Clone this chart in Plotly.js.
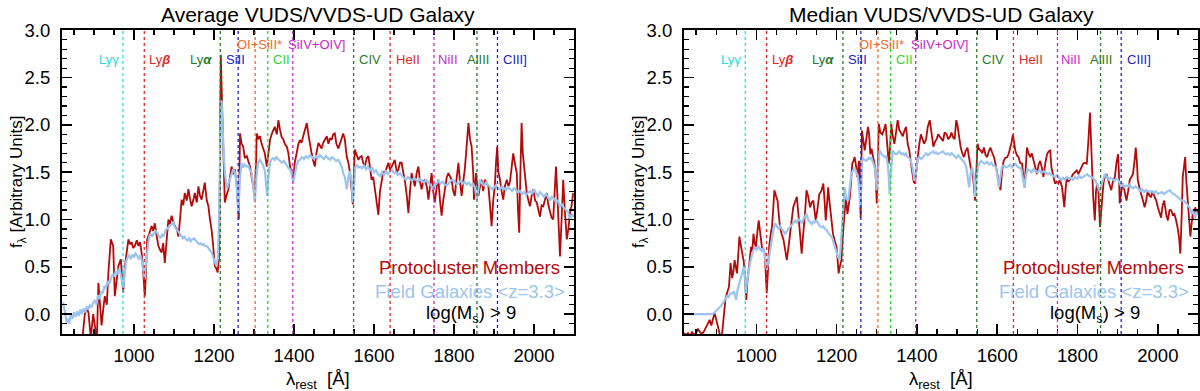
<!DOCTYPE html>
<html>
<head>
<meta charset="utf-8">
<script src="https://cdn.plot.ly/plotly-3.0.1.min.js"></script>
<style>html,body{margin:0;padding:0;background:#fff;}#chart{width:1200px;height:391px;}</style>
</head>
<body>
<div id="chart"></div>
<script>
// ---------------- DATA (rest wavelength [A], f_lambda [arbitrary]) ----------------
const panelTitles = ["Average VUDS/VVDS-UD Galaxy", "Median VUDS/VVDS-UD Galaxy"];
const seriesNames = ["Protocluster Members", "Field Galaxies <z=3.3>"];
const massCut = "log(M<sub>s</sub>) > 9";

// Average stack - protocluster members
const avgProto = [[870,-0.3],[877,0.0],[882,0.06],[886,0.02],[892,-0.25],[898,0.0],[903,-0.15],[907,-0.3],[911,0.33],[915,0.1],[919,-0.12],[923,0.05],[927,0.19],[932,0.1],[936,0.44],[942,0.79],[948,0.72],[952,0.19],[957,0.35],[961,0.51],[967,0.58],[973,0.23],[977,0.5],[982,0.65],[986,0.79],[990,0.74],[994,0.76],[998,0.7],[1002,0.72],[1007,0.78],[1011,0.72],[1015,0.76],[1019,0.65],[1023,0.45],[1027,0.19],[1030,0.45],[1033,0.79],[1038,0.85],[1044,0.93],[1048,0.88],[1052,0.96],[1057,0.82],[1061,0.72],[1065,0.68],[1069,0.65],[1073,0.75],[1077,0.54],[1082,0.8],[1086,1.0],[1090,0.95],[1094,1.04],[1098,0.98],[1102,0.93],[1107,0.9],[1111,0.82],[1115,1.0],[1119,1.21],[1123,1.15],[1127,1.28],[1132,1.2],[1136,1.32],[1140,1.22],[1144,1.14],[1148,1.2],[1152,1.28],[1157,1.18],[1161,1.35],[1165,1.25],[1169,1.21],[1173,1.3],[1177,1.39],[1182,1.2],[1186,1.14],[1190,1.0],[1194,0.89],[1198,0.72],[1202,0.51],[1206,0.48],[1209,0.44],[1213,0.62],[1215,1.6],[1217,2.74],[1219,2.4],[1222,1.95],[1225,1.4],[1227,1.18],[1231,1.25],[1236,1.32],[1240,1.45],[1244,1.56],[1248,1.48],[1252,1.53],[1256,1.4],[1260,1.05],[1262,1.0],[1265,1.91],[1269,1.8],[1273,1.77],[1277,1.65],[1282,1.67],[1286,1.6],[1290,1.56],[1294,1.45],[1298,1.35],[1302,1.25],[1305,1.6],[1307,1.91],[1311,1.85],[1315,1.88],[1319,1.8],[1323,1.74],[1327,1.7],[1332,1.56],[1336,1.7],[1340,1.84],[1344,1.9],[1348,1.95],[1352,1.98],[1357,1.9],[1361,2.05],[1365,1.95],[1369,1.87],[1373,1.85],[1377,1.8],[1382,1.77],[1386,1.7],[1390,1.56],[1394,1.5],[1398,1.42],[1402,1.6],[1407,1.74],[1411,1.8],[1415,1.84],[1419,1.81],[1423,1.88],[1427,1.95],[1432,2.02],[1436,1.9],[1440,1.78],[1444,1.7],[1448,1.62],[1452,1.56],[1456,1.7],[1461,1.81],[1465,1.78],[1469,1.75],[1473,1.81],[1477,1.85],[1482,1.88],[1486,1.8],[1490,1.86],[1494,1.84],[1498,1.9],[1502,1.91],[1506,1.8],[1511,1.75],[1515,1.81],[1519,1.87],[1523,1.91],[1527,1.85],[1532,1.66],[1536,1.6],[1540,1.49],[1544,1.32],[1547,1.16],[1550,1.5],[1552,1.74],[1557,1.68],[1561,1.63],[1565,1.66],[1569,1.67],[1573,1.6],[1577,1.56],[1582,1.65],[1586,1.67],[1590,1.55],[1594,1.42],[1598,1.45],[1602,1.32],[1607,1.2],[1611,1.05],[1615,1.3],[1619,1.42],[1623,1.5],[1627,1.49],[1632,1.55],[1636,1.6],[1640,1.52],[1644,1.56],[1648,1.6],[1652,1.63],[1657,1.5],[1661,1.53],[1665,1.6],[1669,1.6],[1673,1.5],[1677,1.42],[1682,1.25],[1686,1.07],[1690,1.3],[1694,1.49],[1698,1.42],[1702,1.35],[1707,1.5],[1711,1.56],[1715,1.4],[1719,1.32],[1723,1.4],[1727,1.42],[1732,1.35],[1736,1.21],[1740,1.35],[1744,1.49],[1748,1.3],[1752,1.18],[1757,1.35],[1761,1.42],[1765,1.2],[1769,1.04],[1773,1.2],[1777,1.32],[1782,1.45],[1786,1.49],[1790,1.46],[1794,1.42],[1798,1.3],[1802,1.25],[1807,1.45],[1811,1.6],[1815,1.4],[1819,1.25],[1823,1.4],[1827,1.53],[1832,1.8],[1836,2.02],[1840,1.85],[1844,1.77],[1848,1.5],[1850,1.21],[1855,1.49],[1858,1.35],[1861,1.25],[1865,1.35],[1869,1.42],[1873,1.3],[1877,1.42],[1882,1.38],[1886,1.35],[1890,1.15],[1894,0.93],[1898,1.2],[1902,1.35],[1905,1.6],[1908,1.77],[1911,1.5],[1915,1.42],[1919,1.3],[1923,1.21],[1927,1.35],[1932,1.42],[1936,1.35],[1940,1.4],[1944,1.55],[1948,1.7],[1952,1.6],[1957,1.49],[1960,1.1],[1963,0.86],[1966,1.5],[1969,2.02],[1972,1.7],[1975,1.56],[1979,1.4],[1982,1.28],[1986,1.2],[1990,1.14],[1994,1.25],[1998,1.32],[2003,1.2],[2007,1.18],[2011,1.1],[2015,1.03],[2019,1.15],[2023,1.14],[2027,1.2],[2032,1.28],[2036,1.15],[2040,1.07],[2044,1.02],[2048,1.0],[2052,1.3],[2055,1.56],[2058,1.3],[2061,1.0],[2065,0.61],[2069,1.0],[2073,1.42],[2077,1.1],[2082,0.79],[2086,0.9],[2090,1.07],[2094,1.15],[2098,1.28]];

// Average stack - field galaxies
const avgField = [[820,0.09],[823,0.12],[826,0.05],[829,-0.05],[832,-0.09],[835,-0.05],[838,-0.1],[842,0.0],[846,-0.05],[850,0.02],[854,-0.03],[858,0.03],[862,-0.02],[866,0.05],[870,0.0],[874,0.06],[878,0.02],[882,0.08],[886,0.05],[890,0.1],[894,0.07],[898,0.12],[902,0.15],[906,0.1],[910,0.2],[914,0.16],[918,0.24],[922,0.22],[926,0.3],[930,0.27],[934,0.35],[938,0.32],[942,0.38],[946,0.42],[950,0.4],[954,0.45],[958,0.42],[962,0.48],[966,0.44],[970,0.35],[973,0.28],[976,0.4],[980,0.55],[984,0.6],[988,0.62],[992,0.58],[996,0.63],[1000,0.6],[1004,0.64],[1008,0.62],[1012,0.58],[1016,0.62],[1020,0.56],[1024,0.45],[1027,0.37],[1030,0.55],[1034,0.72],[1038,0.82],[1042,0.85],[1046,0.82],[1050,0.86],[1054,0.88],[1058,0.86],[1062,0.82],[1066,0.8],[1070,0.84],[1074,0.82],[1078,0.88],[1082,0.9],[1086,0.92],[1090,0.94],[1094,0.96],[1098,0.97],[1102,0.92],[1106,0.9],[1110,0.88],[1114,0.86],[1118,0.83],[1122,0.8],[1126,0.82],[1130,0.79],[1134,0.78],[1138,0.8],[1142,0.77],[1146,0.79],[1150,0.8],[1154,0.78],[1158,0.76],[1162,0.74],[1166,0.75],[1170,0.73],[1174,0.74],[1178,0.72],[1182,0.72],[1186,0.7],[1190,0.68],[1194,0.65],[1198,0.6],[1202,0.55],[1206,0.51],[1210,0.6],[1213,1.07],[1216,1.9],[1219,2.26],[1221,2.0],[1223,1.77],[1227,1.5],[1232,1.32],[1236,1.38],[1240,1.42],[1244,1.48],[1248,1.53],[1252,1.5],[1256,1.4],[1259,1.2],[1261,1.07],[1264,1.4],[1269,1.6],[1273,1.55],[1277,1.58],[1282,1.56],[1286,1.57],[1290,1.52],[1294,1.5],[1298,1.35],[1302,1.18],[1306,1.45],[1310,1.6],[1315,1.63],[1319,1.6],[1323,1.57],[1327,1.52],[1330,1.4],[1333,1.25],[1336,1.45],[1340,1.6],[1344,1.64],[1348,1.65],[1352,1.63],[1356,1.66],[1360,1.64],[1365,1.62],[1370,1.6],[1375,1.62],[1380,1.58],[1385,1.55],[1390,1.53],[1394,1.48],[1398,1.39],[1402,1.48],[1407,1.58],[1411,1.62],[1415,1.63],[1420,1.66],[1425,1.64],[1430,1.67],[1435,1.65],[1440,1.68],[1445,1.66],[1450,1.64],[1455,1.67],[1460,1.65],[1465,1.68],[1470,1.66],[1475,1.64],[1480,1.67],[1485,1.65],[1490,1.63],[1495,1.66],[1500,1.64],[1505,1.62],[1510,1.63],[1515,1.6],[1520,1.55],[1523,1.49],[1527,1.45],[1532,1.32],[1536,1.45],[1540,1.51],[1544,1.4],[1547,1.18],[1550,1.35],[1553,1.55],[1557,1.58],[1561,1.55],[1565,1.56],[1570,1.54],[1575,1.57],[1580,1.53],[1585,1.56],[1590,1.52],[1595,1.55],[1600,1.5],[1605,1.52],[1610,1.48],[1615,1.46],[1620,1.5],[1625,1.47],[1630,1.51],[1635,1.48],[1640,1.5],[1645,1.53],[1650,1.49],[1655,1.5],[1660,1.47],[1665,1.49],[1670,1.46],[1675,1.44],[1680,1.42],[1685,1.45],[1690,1.43],[1695,1.41],[1700,1.44],[1705,1.42],[1710,1.4],[1715,1.43],[1720,1.41],[1725,1.39],[1730,1.42],[1735,1.4],[1740,1.37],[1744,1.35],[1748,1.32],[1752,1.36],[1757,1.39],[1762,1.41],[1767,1.38],[1772,1.4],[1777,1.37],[1782,1.36],[1787,1.38],[1792,1.41],[1797,1.42],[1802,1.39],[1807,1.37],[1812,1.39],[1817,1.41],[1822,1.38],[1827,1.4],[1832,1.37],[1837,1.39],[1842,1.36],[1847,1.38],[1852,1.34],[1857,1.21],[1861,1.32],[1865,1.42],[1870,1.38],[1875,1.36],[1880,1.39],[1885,1.37],[1890,1.35],[1895,1.32],[1900,1.34],[1905,1.36],[1910,1.33],[1915,1.32],[1920,1.35],[1925,1.33],[1930,1.31],[1935,1.34],[1940,1.32],[1945,1.3],[1950,1.33],[1955,1.31],[1960,1.29],[1965,1.3],[1970,1.27],[1975,1.29],[1980,1.26],[1985,1.28],[1990,1.3],[1995,1.27],[2000,1.32],[2005,1.28],[2010,1.25],[2015,1.29],[2020,1.26],[2025,1.24],[2030,1.27],[2035,1.23],[2040,1.2],[2045,1.24],[2050,1.22],[2055,1.18],[2060,1.2],[2065,1.14],[2070,1.16],[2075,1.12],[2080,1.1],[2085,1.08],[2090,1.0],[2095,1.06],[2100,1.03]];

// Median stack - protocluster members
const medProto = [[820,-0.2],[825,-0.22],[830,-0.2],[835,-0.23],[840,-0.19],[845,-0.22],[850,-0.2],[855,-0.16],[860,-0.19],[865,-0.21],[870,-0.18],[875,-0.14],[880,-0.1],[884,-0.06],[888,-0.12],[892,-0.05],[896,0.01],[900,-0.05],[904,-0.12],[907,-0.2],[911,-0.25],[915,-0.2],[919,-0.05],[923,0.15],[927,0.22],[932,0.29],[936,0.54],[940,0.38],[943,0.45],[946,0.57],[949,0.5],[952,0.43],[955,0.62],[958,0.82],[961,0.74],[965,0.64],[969,0.55],[972,0.35],[975,0.15],[978,0.35],[981,0.5],[984,0.62],[987,0.71],[990,0.66],[993,0.85],[996,0.75],[999,0.71],[1003,0.88],[1006,0.99],[1010,0.85],[1014,0.71],[1018,0.68],[1021,0.64],[1024,0.4],[1026,0.22],[1029,0.45],[1032,0.71],[1036,0.85],[1039,0.92],[1042,1.1],[1045,1.31],[1049,1.25],[1053,1.2],[1056,1.05],[1059,0.92],[1063,0.85],[1068,0.78],[1072,0.68],[1076,0.57],[1080,0.7],[1084,0.85],[1088,1.0],[1092,1.13],[1096,1.18],[1101,1.24],[1104,1.1],[1107,0.92],[1110,0.78],[1113,0.64],[1116,0.8],[1119,0.92],[1122,1.1],[1125,1.31],[1129,1.25],[1134,1.13],[1138,1.18],[1142,1.2],[1145,1.08],[1148,0.99],[1152,1.1],[1157,1.27],[1162,1.3],[1167,1.38],[1170,1.2],[1173,0.99],[1176,1.15],[1179,1.34],[1182,1.2],[1185,1.06],[1188,0.95],[1191,0.85],[1195,0.78],[1200,0.71],[1203,0.55],[1205,0.43],[1208,0.5],[1212,0.57],[1215,0.8],[1218,0.99],[1221,1.1],[1223,1.24],[1225,1.15],[1227,1.06],[1230,1.15],[1233,1.24],[1236,1.4],[1239,1.59],[1242,1.62],[1245,1.66],[1248,1.58],[1251,1.45],[1254,1.55],[1256,1.62],[1258,1.3],[1260,1.02],[1263,1.94],[1266,1.82],[1270,1.73],[1274,1.85],[1278,1.98],[1281,1.9],[1284,1.69],[1287,1.75],[1290,1.69],[1293,1.6],[1296,1.55],[1298,1.4],[1300,1.17],[1303,1.6],[1305,2.01],[1309,1.92],[1314,1.9],[1318,1.95],[1322,2.01],[1326,1.8],[1330,1.59],[1333,1.75],[1336,2.01],[1340,1.88],[1344,1.8],[1348,1.92],[1352,2.05],[1356,1.95],[1361,1.9],[1365,1.88],[1369,1.94],[1373,1.98],[1377,1.8],[1381,1.73],[1385,1.6],[1389,1.45],[1392,1.4],[1395,1.38],[1398,1.5],[1402,1.66],[1406,1.8],[1410,1.9],[1414,1.85],[1418,1.8],[1423,1.85],[1427,1.98],[1432,2.05],[1436,1.9],[1441,1.77],[1445,1.82],[1449,1.85],[1453,1.9],[1457,1.88],[1461,1.85],[1465,1.83],[1469,1.92],[1474,1.9],[1478,1.85],[1482,1.87],[1486,1.92],[1490,1.87],[1494,1.85],[1498,2.05],[1501,2.0],[1505,1.85],[1509,1.76],[1513,1.7],[1517,1.66],[1521,1.72],[1526,1.76],[1530,1.65],[1534,1.55],[1538,1.5],[1541,1.4],[1545,1.2],[1548,1.5],[1551,1.8],[1555,1.74],[1559,1.73],[1563,1.7],[1567,1.76],[1571,1.68],[1575,1.66],[1579,1.72],[1583,1.76],[1588,1.7],[1592,1.66],[1596,1.58],[1600,1.48],[1604,1.4],[1608,1.31],[1612,1.5],[1616,1.62],[1620,1.65],[1625,1.66],[1629,1.7],[1633,1.76],[1636,1.82],[1639,1.9],[1642,1.8],[1645,1.73],[1649,1.68],[1653,1.66],[1657,1.6],[1662,1.59],[1665,1.45],[1668,1.34],[1671,1.55],[1674,1.76],[1678,1.7],[1682,1.66],[1686,1.7],[1691,1.62],[1695,1.55],[1699,1.48],[1703,1.58],[1707,1.62],[1711,1.55],[1715,1.45],[1720,1.6],[1724,1.69],[1728,1.72],[1732,1.73],[1735,1.55],[1738,1.48],[1741,1.42],[1744,1.38],[1748,1.4],[1752,1.38],[1756,1.42],[1761,1.35],[1764,1.25],[1767,1.13],[1770,1.3],[1773,1.45],[1777,1.4],[1781,1.42],[1785,1.45],[1789,1.48],[1793,1.5],[1798,1.52],[1802,1.48],[1806,1.52],[1810,1.55],[1814,1.59],[1818,1.6],[1823,1.59],[1827,1.83],[1831,2.13],[1833,1.9],[1835,1.59],[1839,1.24],[1843,0.99],[1846,1.3],[1849,1.38],[1852,1.3],[1856,0.92],[1859,1.15],[1862,1.25],[1865,1.4],[1868,1.45],[1872,1.48],[1876,1.42],[1880,1.38],[1884,1.31],[1888,1.4],[1893,1.45],[1897,1.6],[1901,1.69],[1903,1.5],[1905,1.17],[1909,1.3],[1913,1.38],[1917,1.3],[1922,1.2],[1926,1.3],[1930,1.42],[1934,1.45],[1938,1.48],[1942,1.62],[1945,1.76],[1948,1.6],[1950,1.42],[1955,1.32],[1959,1.27],[1963,1.2],[1967,1.13],[1971,1.2],[1975,1.31],[1979,1.25],[1983,1.24],[1987,1.3],[1992,1.24],[1996,1.2],[2000,1.13],[2004,1.08],[2008,1.02],[2012,1.15],[2016,1.2],[2021,1.05],[2025,0.99],[2029,1.1],[2033,1.1],[2037,1.05],[2041,1.06],[2045,1.0],[2049,0.92],[2053,0.8],[2056,0.64],[2059,1.0],[2062,1.45],[2065,1.55],[2068,1.66],[2071,1.4],[2074,1.24],[2078,1.0],[2081,0.82],[2084,0.95],[2087,1.06],[2090,1.0],[2093,1.13],[2097,1.05],[2100,1.1]];

// Median stack - field galaxies
const medField = [[820,0.0],[855,0.0],[890,0.0],[894,0.01],[898,0.03],[902,0.05],[906,0.06],[911,0.08],[915,0.1],[919,0.13],[923,0.16],[927,0.19],[931,0.18],[935,0.22],[940,0.22],[944,0.24],[947,0.2],[950,0.15],[953,0.25],[957,0.32],[960,0.36],[964,0.42],[969,0.5],[972,0.4],[974,0.22],[977,0.35],[981,0.47],[985,0.55],[989,0.62],[993,0.68],[997,0.7],[1001,0.68],[1006,0.71],[1010,0.69],[1014,0.66],[1018,0.7],[1022,0.6],[1026,0.47],[1030,0.55],[1035,0.7],[1039,0.82],[1043,0.9],[1047,0.96],[1051,0.93],[1055,0.9],[1059,0.93],[1063,0.9],[1068,0.87],[1072,0.85],[1076,0.88],[1080,0.9],[1084,0.92],[1088,0.94],[1092,0.96],[1097,0.99],[1101,0.97],[1105,1.0],[1109,0.99],[1113,0.96],[1117,1.0],[1121,1.03],[1125,1.06],[1129,1.0],[1134,0.97],[1138,0.95],[1142,0.98],[1146,0.97],[1150,0.99],[1154,0.95],[1158,0.93],[1163,0.92],[1167,0.93],[1171,0.9],[1175,0.89],[1179,0.86],[1183,0.84],[1187,0.82],[1191,0.78],[1195,0.72],[1200,0.64],[1204,0.6],[1208,0.58],[1211,0.75],[1215,1.06],[1218,1.25],[1220,1.34],[1224,1.22],[1229,1.2],[1233,1.35],[1237,1.48],[1241,1.52],[1245,1.55],[1249,1.5],[1253,1.45],[1256,1.35],[1259,1.13],[1262,1.4],[1264,1.66],[1269,1.63],[1274,1.62],[1279,1.65],[1283,1.64],[1286,1.66],[1290,1.62],[1295,1.55],[1298,1.45],[1300,1.31],[1303,1.5],[1307,1.73],[1311,1.7],[1315,1.68],[1319,1.66],[1323,1.67],[1327,1.6],[1330,1.45],[1332,1.27],[1335,1.5],[1340,1.73],[1344,1.7],[1348,1.69],[1352,1.7],[1356,1.72],[1361,1.69],[1365,1.7],[1369,1.68],[1373,1.7],[1377,1.66],[1381,1.65],[1385,1.62],[1389,1.55],[1394,1.41],[1398,1.5],[1402,1.64],[1406,1.66],[1410,1.64],[1414,1.65],[1419,1.68],[1423,1.7],[1427,1.68],[1431,1.69],[1435,1.7],[1440,1.72],[1444,1.7],[1448,1.71],[1452,1.69],[1456,1.7],[1461,1.71],[1465,1.72],[1469,1.7],[1473,1.69],[1477,1.7],[1482,1.68],[1486,1.7],[1490,1.69],[1494,1.67],[1498,1.65],[1503,1.68],[1507,1.66],[1511,1.65],[1515,1.63],[1519,1.6],[1523,1.55],[1527,1.45],[1530,1.34],[1534,1.5],[1538,1.55],[1542,1.45],[1545,1.24],[1548,1.4],[1552,1.55],[1556,1.6],[1560,1.62],[1565,1.6],[1570,1.59],[1575,1.61],[1580,1.58],[1585,1.6],[1590,1.57],[1596,1.56],[1600,1.48],[1604,1.34],[1608,1.45],[1612,1.56],[1617,1.57],[1622,1.55],[1627,1.56],[1632,1.58],[1637,1.55],[1641,1.57],[1645,1.59],[1650,1.56],[1655,1.55],[1660,1.53],[1664,1.45],[1668,1.34],[1671,1.45],[1675,1.53],[1680,1.52],[1685,1.5],[1690,1.53],[1695,1.51],[1700,1.5],[1705,1.52],[1710,1.49],[1715,1.51],[1720,1.5],[1725,1.48],[1730,1.49],[1735,1.47],[1740,1.46],[1744,1.45],[1749,1.47],[1754,1.44],[1759,1.42],[1764,1.44],[1769,1.42],[1774,1.45],[1779,1.43],[1784,1.44],[1789,1.42],[1794,1.45],[1799,1.43],[1804,1.46],[1809,1.44],[1814,1.45],[1819,1.47],[1824,1.48],[1829,1.46],[1834,1.45],[1838,1.44],[1842,1.42],[1846,1.4],[1851,1.34],[1855,1.3],[1859,1.36],[1863,1.42],[1868,1.48],[1873,1.45],[1878,1.42],[1882,1.44],[1887,1.43],[1892,1.41],[1896,1.43],[1901,1.42],[1905,1.38],[1909,1.35],[1913,1.37],[1917,1.34],[1922,1.36],[1926,1.35],[1930,1.37],[1934,1.34],[1939,1.33],[1944,1.35],[1948,1.34],[1952,1.32],[1957,1.3],[1961,1.32],[1966,1.29],[1970,1.31],[1975,1.3],[1980,1.29],[1985,1.3],[1990,1.28],[1995,1.3],[2000,1.27],[2005,1.28],[2010,1.29],[2015,1.27],[2020,1.29],[2025,1.3],[2030,1.31],[2035,1.28],[2040,1.27],[2045,1.25],[2050,1.23],[2055,1.22],[2060,1.2],[2065,1.2],[2070,1.18],[2075,1.15],[2080,1.12],[2084,1.06],[2088,1.1],[2092,1.0],[2096,1.08],[2100,1.05]];

// Spectral features: names and rest wavelengths [A]
const lineNames = ["Ly&#947;", "Ly<b><i>&#946;</i></b>", "Ly<b><i>&#945;</i></b>", "SiII", "OI+SiII*", "CII", "SiIV+OIV]", "CIV", "HeII", "NiII", "AlIII", "CIII]"];
const lineWaves = [972.5, 1025.7, 1215.7, 1260.4, 1303.0, 1334.5, 1397.0, 1549.0, 1640.4, 1750.0, 1857.4, 1908.7];

// ---------------- STYLE / LAYOUT ----------------
const lineColors = ["#22e0e0", "#e02828", "#2a7a2a", "#2020c8", "#f06a28", "#2ed62e", "#c828c8", "#2a7a2a", "#e02828", "#c828c8", "#2a7a2a", "#2020c8"];
const labelX      = [967, 1033, 1199, 1224, 1313, 1342, 1380, 1557, 1649, 1754, 1827, 1918];
const labelAnchor = ["right","left","right","left","center","left","left","left","left","left","left","left"];
const labelRow    = [0,0,0,0,1,0,1,0,0,0,0,0];

const RED = "#b40a0a", BLUE = "#9cc4f0";
const FONT = "Liberation Sans, Arial, Helvetica, sans-serif";
const H = 391, W = 1200;
const yTop = 30, yBot = 334;
const panels = [
  {xd:[62/W, 574/W], xa:"x", ya:"y", data:[avgProto, avgField]},
  {xd:[684/W, 1198/W], xa:"x2", ya:"y2", data:[medProto, medField]}
];
const ydom = [1 - yBot/H, 1 - yTop/H];

function xaxisCfg(dom, anchor){
  return {domain:dom, anchor:anchor, range:[820,2100], showline:true, linecolor:"black", linewidth:2,
    mirror:"ticks", ticks:"inside", ticklen:10, tickwidth:1.5, tickcolor:"black",
    tick0:0, dtick:200, showgrid:false, zeroline:false, ticklabelstandoff:4,
    minor:{ticks:"inside", dtick:50, tick0:0, ticklen:5, tickwidth:1.2, tickcolor:"black", showgrid:false},
    tickfont:{family:FONT, size:18.5, color:"black"}};
}
function yaxisCfg(anchor){
  return {domain:ydom, anchor:anchor, range:[-0.21,3.003], showline:true, linecolor:"black", linewidth:2,
    mirror:"ticks", ticks:"inside", ticklen:10, tickwidth:1.5, tickcolor:"black",
    tick0:0, dtick:0.5, tickformat:".1f", showgrid:false, zeroline:false, ticklabelstandoff:6,
    minor:{ticks:"inside", dtick:0.1, tick0:0, ticklen:5, tickwidth:1.2, tickcolor:"black", showgrid:false},
    tickfont:{family:FONT, size:18.5, color:"black"}};
}

const traces = [];
const shapes = [];
const annotations = [];
panels.forEach((p, i) => {
  const cols = [RED, BLUE];
  const widths = [1.8, 2.2];
  p.data.forEach((s, k) => {
    traces.push({type:"scatter", mode:"lines", xaxis:p.xa, yaxis:p.ya,
      x:s.map(d=>d[0]), y:s.map(d=>d[1]), name:seriesNames[k],
      line:{color:cols[k], width:widths[k]}, hoverinfo:"skip"});
  });
  lineWaves.forEach((w, j) => {
    shapes.push({type:"line", xref:p.xa, yref:p.ya + " domain", x0:w, x1:w, y0:0, y1:1,
      line:{color:lineColors[j], width:1.3, dash:"dot"}, layer:"above"});
    annotations.push({xref:p.xa, yref:"paper", x:labelX[j], y: labelRow[j] ? 1 - 45/H : 1 - 60/H,
      xanchor:labelAnchor[j], yanchor:"middle", showarrow:false, text:lineNames[j],
      font:{family:FONT, size:13, color:lineColors[j]}});
  });
  const x0 = p.xd[0], x1 = p.xd[1];
  annotations.push({xref:"paper", yref:"paper", x:(x0+x1)/2, y:1 - 15/H, xanchor:"center", yanchor:"middle",
    showarrow:false, text:panelTitles[i], font:{family:FONT, size:21, color:"black"}});
  annotations.push({xref:"paper", yref:"paper", x:x1 - 12/W, y:1 - 267/H, xanchor:"right", yanchor:"middle",
    showarrow:false, text:seriesNames[0], font:{family:FONT, size:18.5, color:RED}});
  annotations.push({xref:"paper", yref:"paper", x:x1 - 7/W, y:1 - 291/H, xanchor:"right", yanchor:"middle",
    showarrow:false, text:seriesNames[1].replace("<","&lt;").replace(">","&gt;"), font:{family:FONT, size:18.5, color:BLUE}});
  annotations.push({xref:"paper", yref:"paper", x:x1 - 56/W, y:1 - 314/H, xanchor:"right", yanchor:"middle",
    showarrow:false, text:massCut, font:{family:FONT, size:18.5, color:"black"}});
  annotations.push({xref:"paper", yref:"paper", x:(x0+x1)/2, y:1 - 380/H, xanchor:"center", yanchor:"middle",
    showarrow:false, text:"&#955;<sub>rest</sub>  [&#197;]", font:{family:FONT, size:18.5, color:"black"}});
  annotations.push({xref:"paper", yref:"paper", x:x0 - 44/W, y:(ydom[0]+ydom[1])/2, xanchor:"center", yanchor:"middle",
    textangle:-90, showarrow:false, text:"f<sub>&#955;</sub> [Arbitrary Units]", font:{family:FONT, size:17, color:"black"}});
});

const layout = {
  width:W, height:H, margin:{l:0, r:0, t:0, b:0}, paper_bgcolor:"white", plot_bgcolor:"white",
  showlegend:false, font:{family:FONT, color:"black"},
  xaxis:xaxisCfg(panels[0].xd, "y"), yaxis:yaxisCfg("x"),
  xaxis2:xaxisCfg(panels[1].xd, "y2"), yaxis2:yaxisCfg("x2"),
  shapes:shapes, annotations:annotations
};
Plotly.newPlot("chart", traces, layout, {staticPlot:true, displayModeBar:false});
</script>
</body>
</html>
